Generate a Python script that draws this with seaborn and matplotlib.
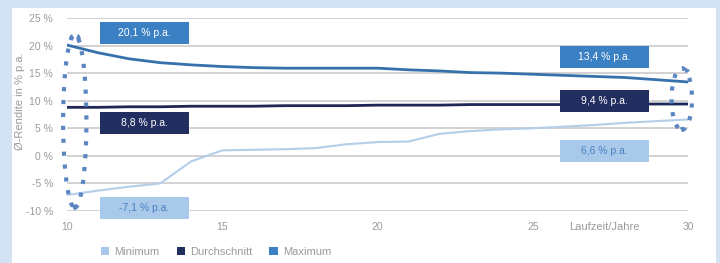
import numpy as np
import pandas as pd
import matplotlib
matplotlib.use("Agg")
import matplotlib.pyplot as plt
from matplotlib.patches import Rectangle, Ellipse, Patch
import seaborn as sns

years = list(range(10, 31))
minimum = [-7.1, -6.3, -5.6, -5.0, -1.0, 1.0, 1.1, 1.2, 1.4, 2.1, 2.5, 2.6, 4.0, 4.5, 4.8, 5.0, 5.3, 5.6, 6.0, 6.3, 6.6]
durchschnitt = [8.8, 8.8, 8.9, 8.9, 9.0, 9.0, 9.0, 9.1, 9.1, 9.1, 9.2, 9.2, 9.2, 9.3, 9.3, 9.3, 9.3, 9.4, 9.4, 9.4, 9.4]
maximum = [20.1, 18.7, 17.6, 16.9, 16.5, 16.2, 16.0, 15.9, 15.9, 15.9, 15.9, 15.6, 15.4, 15.1, 15.0, 14.8, 14.6, 14.4, 14.2, 13.8, 13.4]
series_names = ["Minimum", "Durchschnitt", "Maximum"]
y_ticks = [-10, -5, 0, 5, 10, 15, 20, 25]
x_ticks = [10, 15, 20, 25, 30]
box_labels = ["20,1 % p.a.", "8,8 % p.a.", "-7,1 % p.a.", "13,4 % p.a.", "9,4 % p.a.", "6,6 % p.a."]

c_min, c_avg, c_max = "#b3cee9", "#1d2654", "#3671ac"
box_min, box_avg, box_max = "#a9c9ea", "#232e60", "#3c80c4"
grey = "#9a9a9a"

df = pd.DataFrame({
    "Jahr": years * 3,
    "Rendite": minimum + durchschnitt + maximum,
    "Serie": [series_names[0]] * 21 + [series_names[1]] * 21 + [series_names[2]] * 21,
})

sns.set_theme(style="white")
plt.rcParams["font.family"] = ["Liberation Sans", "DejaVu Sans"]

fig = plt.figure(figsize=(7.2, 2.63), dpi=100, facecolor="#d3e3f3")
# white panel
panel = Rectangle((12 / 720, 0), (716 - 12) / 720, 1 - 8 / 263,
                  transform=fig.transFigure, facecolor="white",
                  edgecolor="none", zorder=-10)
fig.patches.append(panel)

ax = fig.add_axes([67 / 720, 1 - 211 / 263, (688 - 67) / 720, (211 - 18) / 263])
ax.set_zorder(1)
ax.set_facecolor("none")
ax.patch.set_alpha(0)
for s in ax.spines.values():
    s.set_visible(False)

for v in y_ticks:
    ax.axhline(v, color="#cfcfcf", lw=1.3, zorder=1)

sns.lineplot(data=df, x="Jahr", y="Rendite", hue="Serie",
             palette={"Minimum": c_min, "Durchschnitt": c_avg, "Maximum": c_max},
             hue_order=series_names, legend=False, ax=ax, zorder=3)
for line, lw in zip(ax.get_lines()[-3:], [1.5, 2.0, 2.0]):
    line.set_linewidth(lw)

ax.set_xlim(10, 30)
ax.set_ylim(-10, 25)
ax.set_yticks(y_ticks)
ax.set_yticklabels([f"{v} %" for v in y_ticks])
ax.set_xticks(x_ticks)
ax.set_xticklabels([str(v) for v in x_ticks])
ax.tick_params(axis="both", length=0, labelsize=7.5, labelcolor=grey)
ax.tick_params(axis="y", pad=10)
ax.tick_params(axis="x", pad=8)

ax.set_xlabel("")
ax.set_ylabel("Ø-Rendite in % p.a.", fontsize=8, color=grey)
ax.yaxis.set_label_coords(-0.067, 0.57)
ax.text(0.866, -0.083, "Laufzeit/Jahre", transform=ax.transAxes, ha="center",
        va="center", fontsize=8, color=grey)

# annotation boxes (axes fraction)
boxes = [
    (0.053, 0.865, box_max, "white"),
    (0.053, 0.399, box_avg, "white"),
    (0.053, -0.041, box_min, "#4a80c2"),
    (0.794, 0.741, box_max, "white"),
    (0.794, 0.513, box_avg, "white"),
    (0.794, 0.254, box_min, "#4a80c2"),
]
bw, bh = 0.143, 0.114
for (x0, y0, fc, tc), lab in zip(boxes, box_labels):
    ax.add_patch(Rectangle((x0, y0), bw, bh, transform=ax.transAxes,
                           facecolor=fc, edgecolor="none", zorder=4, clip_on=False))
    ax.text(x0 + bw / 2, y0 + bh / 2, lab, transform=ax.transAxes, ha="center",
            va="center", fontsize=7.5, color=tc, zorder=5)

# dotted ellipses
dot = "#5b86c2"
e1 = Ellipse((10.25, 6.3), 0.75, 31.4, fill=False, edgecolor=dot, lw=3.0,
             linestyle=(0, (1.0, 2.1)), zorder=5, clip_on=False)
e2 = Ellipse((29.8, 10.3), 0.66, 11.2, fill=False, edgecolor=dot, lw=3.0,
             linestyle=(0, (1.0, 2.1)), zorder=5, clip_on=False)
ax.add_patch(e1)
ax.add_patch(e2)
ax.plot([10.13, 10.37], [21.7, 21.7], ls="none", marker="^", ms=2.5, color=dot,
        clip_on=False, zorder=6)
ax.plot([10.22], [-9.3], ls="none", marker="v", ms=3, color=dot, clip_on=False, zorder=6)
ax.plot([29.97], [15.6], ls="none", marker=">", ms=2.5, color=dot, clip_on=False, zorder=6)
ax.plot([29.82], [4.9], ls="none", marker="v", ms=2.5, color=dot, clip_on=False, zorder=6)

handles = [Patch(facecolor=c, edgecolor="none") for c in (box_min, box_avg, box_max)]
leg = fig.legend(handles, series_names, loc="center left",
                 bbox_to_anchor=(101 / 720, 1 - 252 / 263), ncol=3, frameon=False,
                 fontsize=8, handlelength=0.75, handleheight=0.75, handletextpad=0.45,
                 columnspacing=1.55, borderaxespad=0, borderpad=0)
for t in leg.get_texts():
    t.set_color(grey)

fig.savefig("out.png", dpi=100, facecolor=fig.get_facecolor())
